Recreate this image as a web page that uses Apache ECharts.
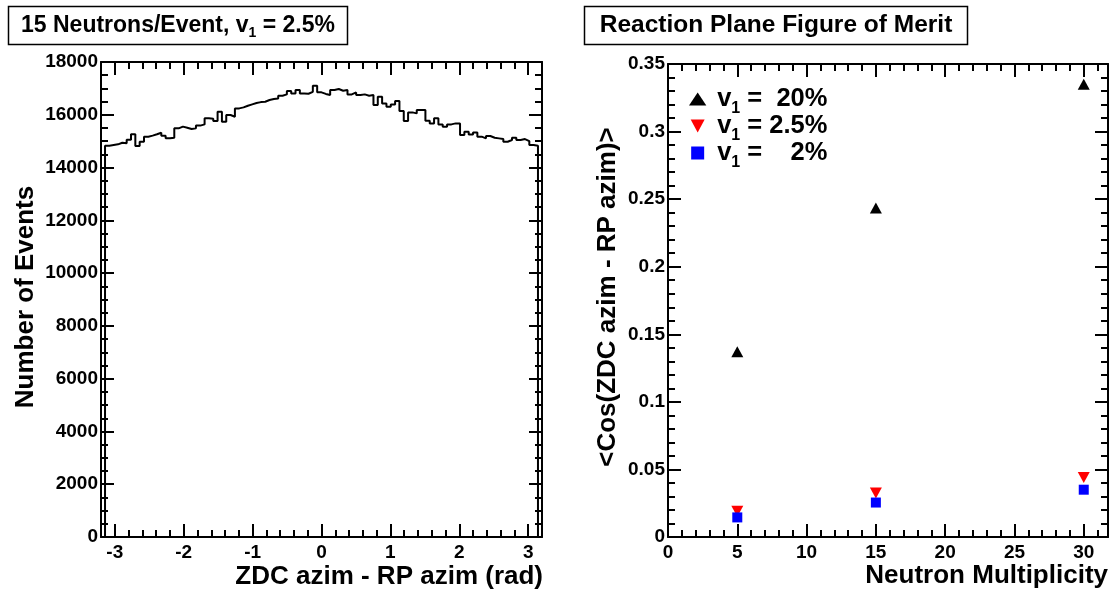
<!DOCTYPE html>
<html><head><meta charset="utf-8">
<script src="https://cdn.jsdelivr.net/npm/echarts@6/dist/echarts.min.js"></script>
<style>html,body{margin:0;padding:0;background:#fff}#c{width:1117px;height:590px}</style>
</head><body><div id="c"></div>
<script>
// ---- data ----
const histCounts = [
  14830,14855,14880,14940,14920,15050,15260,14815,14980,15170,
  15210,15260,15320,15210,15110,15130,15485,15550,15510,15460,
  15485,15590,15636,15864,15850,15764,16117,15737,15990,15927,
  16242,16280,16343,16394,16444,16480,16495,16558,16596,16620,
  16722,16773,16899,16810,16937,16810,16798,16870,17100,16850,
  16790,16747,16937,16975,16912,16937,16773,16848,16747,16773,
  16722,16747,16368,16684,16432,16305,16394,16520,16141,15764,
  16091,16053,16179,16179,15770,15674,15864,15636,15547,15636,
  15674,15674,15232,15358,15257,15333,15170,15106,15195,15131,
  15106,15080,14980,15043,15131,15043,15080,15005,14853,14828
];
const histRange = [-Math.PI, Math.PI];
const multiplicity = [5, 15, 30];
const cosV1_20 = [0.137, 0.2435, 0.335];
const cosV1_25 = [0.019, 0.0325, 0.044];
const cosV1_2  = [0.0145, 0.0255, 0.035];
const seriesNames = ['v1 = 20%', 'v1 = 2.5%', 'v1 = 2%'];
const legendTails = [' =  20%', ' = 2.5%', ' =    2%'];
const leftTitle = ['15 Neutrons/Event, v', '1', ' = 2.5%'];
const rightTitle = 'Reaction Plane Figure of Merit';
const leftXTitle = 'ZDC azim - RP azim (rad)';
const leftYTitle = 'Number of Events';
const rightXTitle = 'Neutron Multiplicity';
const rightYTitle = '<Cos(ZDC azim - RP azim)>';

// ---- build ----
const FONT = '"Liberation Sans", Arial, Helvetica, sans-serif';
const nb = histCounts.length;
const bw = (histRange[1] - histRange[0]) / nb;
const histPts = [[histRange[0], 0]];
histCounts.forEach((v, i) => {
  histPts.push([histRange[0] + i * bw, v]);
  histPts.push([histRange[0] + (i + 1) * bw, v]);
});
histPts.push([histRange[1], 0]);

const lab = {fontFamily: FONT, fontWeight: 'bold', fontSize: 19, color: '#000', formatter: v => String(v)};
const blk = {color: '#000', width: 2};
function xAx(grid, pos, min, max, opts) {
  const major = opts.major;
  return {
    type: 'value', gridIndex: grid, position: pos, min: min, max: max,
    interval: opts.interval, splitNumber: opts.splitNumber,
    axisLine: {show: major, onZero: false, lineStyle: blk},
    axisTick: {show: true, inside: true, length: major ? 13 : 7, lineStyle: blk},
    axisLabel: (major && opts.labels) ? Object.assign({show: true, margin: 6, showMinLabel: opts.showMin, showMaxLabel: false}, lab) : {show: false},
    splitLine: {show: false}
  };
}
function yAx(grid, pos, min, max, interval, minorSplit, labels) {
  return {
    type: 'value', gridIndex: grid, position: pos, min: min, max: max, interval: interval,
    axisLine: {show: true, onZero: false, lineStyle: blk},
    axisTick: {show: true, inside: true, length: 13, lineStyle: blk},
    minorTick: {show: true, splitNumber: minorSplit, length: 7, lineStyle: blk},
    axisLabel: labels ? Object.assign({show: true, margin: 3}, lab) : {show: false},
    splitLine: {show: false}
  };
}

const legendRich = {
  m: {fontFamily: FONT, fontWeight: 'bold', fontSize: 25.5, lineHeight: 26, color: '#000'},
  s: {fontFamily: FONT, fontWeight: 'bold', fontSize: 16, lineHeight: 6, height: 6, verticalAlign: 'bottom', color: '#000'}
};
const titleRich = {
  m: {fontFamily: FONT, fontWeight: 'bold', fontSize: 23, lineHeight: 21, color: '#000'},
  s: {fontFamily: FONT, fontWeight: 'bold', fontSize: 14, lineHeight: 6, height: 6, verticalAlign: 'bottom', color: '#000'}
};
const axTitle = {fontFamily: FONT, fontWeight: 'bold', fontSize: 26, fill: '#000'};

const option = {
  animation: false,
  backgroundColor: '#fff',
  grid: [
    {left: 101, top: 62, width: 441, height: 475},
    {left: 668, top: 64, width: 440, height: 473}
  ],
  xAxis: [
    xAx(0, 'bottom', -3.2, 3.2, {major: true, labels: true, splitNumber: 6, showMin: false}),
    xAx(0, 'bottom', -3.2, 3.2, {major: false, interval: 0.2}),
    xAx(0, 'top', -3.2, 3.2, {major: true, labels: false, splitNumber: 6}),
    xAx(0, 'top', -3.2, 3.2, {major: false, interval: 0.2}),
    xAx(1, 'bottom', 0, 31.75, {major: true, labels: true, interval: 5, showMin: true}),
    xAx(1, 'bottom', 0, 31.75, {major: false, interval: 1}),
    xAx(1, 'top', 0, 31.75, {major: true, labels: false, interval: 5}),
    xAx(1, 'top', 0, 31.75, {major: false, interval: 1})
  ],
  yAxis: [
    yAx(0, 'left', 0, 18000, 2000, 4, true),
    yAx(0, 'right', 0, 18000, 2000, 4, false),
    yAx(1, 'left', 0, 0.35, 0.05, 5, true),
    yAx(1, 'right', 0, 0.35, 0.05, 5, false)
  ],
  legend: {
    orient: 'vertical', left: 689, top: 86, padding: 0, itemGap: -4,
    itemWidth: 29, itemHeight: 13, selectedMode: false,
    itemStyle: {opacity: 1},
    data: [
      {name: seriesNames[0], icon: 'path://M8,0L16,12L0,12Z'},
      {name: seriesNames[1], icon: 'path://M0,0L14,0L7,13Z'},
      {name: seriesNames[2], icon: 'path://M0,0H12V12H0Z'}
    ],
    formatter: function (name) {
      const i = seriesNames.indexOf(name);
      return '{m|v}{s|1}{m|' + legendTails[i] + '}';
    },
    textStyle: {rich: legendRich}
  },
  series: [
    {
      type: 'line', xAxisIndex: 0, yAxisIndex: 0, data: histPts,
      symbol: 'none', lineStyle: {color: '#000', width: 2}, silent: true
    },
    {
      name: seriesNames[0], type: 'scatter', xAxisIndex: 4, yAxisIndex: 2,
      data: multiplicity.map((m, i) => [m, cosV1_20[i]]),
      symbol: 'path://M6,0L12,11L0,11Z', symbolSize: [12, 11], itemStyle: {color: '#000', opacity: 1}
    },
    {
      name: seriesNames[1], type: 'scatter', xAxisIndex: 4, yAxisIndex: 2,
      data: multiplicity.map((m, i) => [m, cosV1_25[i]]),
      symbol: 'path://M0,0L12,0L6,11Z', symbolSize: [12, 11], itemStyle: {color: '#ff0000', opacity: 1}
    },
    {
      name: seriesNames[2], type: 'scatter', xAxisIndex: 4, yAxisIndex: 2,
      data: multiplicity.map((m, i) => [m, cosV1_2[i]]),
      symbol: 'path://M0,0H10V10H0Z', symbolSize: [10, 10], itemStyle: {color: '#0000ff', opacity: 1}
    }
  ],
  graphic: [
    {type: 'rect', shape: {x: 8.5, y: 6.5, width: 339, height: 38}, style: {fill: '#fff', stroke: '#000', lineWidth: 1.5}},
    {type: 'text', x: 178, y: 25.5, style: {
      text: '{m|' + leftTitle[0] + '}{s|' + leftTitle[1] + '}{m|' + leftTitle[2] + '}',
      rich: titleRich, align: 'center', verticalAlign: 'middle'}},
    {type: 'rect', shape: {x: 584.5, y: 6.5, width: 383, height: 38}, style: {fill: '#fff', stroke: '#000', lineWidth: 1.5}},
    {type: 'text', x: 776, y: 25.5, style: Object.assign({text: rightTitle, align: 'center', verticalAlign: 'middle'},
      {fontFamily: FONT, fontWeight: 'bold', fontSize: 24.5, fill: '#000'})},
    {type: 'text', x: 543, y: 577, style: Object.assign({text: leftXTitle, align: 'right', verticalAlign: 'middle'}, axTitle)},
    {type: 'text', x: 26, y: 297, rotation: Math.PI / 2, style: Object.assign({text: leftYTitle, align: 'center', verticalAlign: 'middle'}, axTitle)},
    {type: 'text', x: 1108, y: 576, style: Object.assign({text: rightXTitle, align: 'right', verticalAlign: 'middle'}, axTitle)},
    {type: 'text', x: 608, y: 297, rotation: Math.PI / 2, style: Object.assign({text: rightYTitle, align: 'center', verticalAlign: 'middle'}, axTitle)}
  ]
};
const chart = echarts.init(document.getElementById('c'), null, {renderer: 'canvas'});
chart.setOption(option);
</script>
</body></html>
